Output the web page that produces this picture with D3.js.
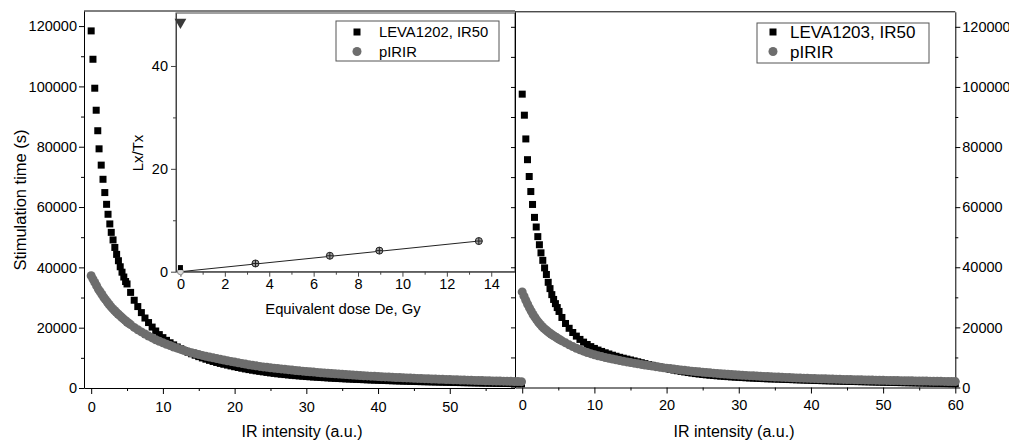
<!DOCTYPE html>
<html><head><meta charset="utf-8">
<script src="https://cdn.jsdelivr.net/npm/d3@7"></script>
<style>body{margin:0;background:#fff}</style>
</head><body>
<svg id="c" width="1009" height="442"></svg>
<script>
// ---------------- DATA ----------------
const xTicksMain = [0, 10, 20, 30, 40, 50, 60];
const yTicksMain = [0, 20000, 40000, 60000, 80000, 100000, 120000];
const xTicksInset = [0, 2, 4, 6, 8, 10, 12, 14];
const yTicksInset = [0, 20, 40];

// x positions (IR intensity, a.u.)
const leftIR50EarlyX = [0,0.25,0.5,0.7,0.92,1.1,1.4,1.65,1.9,2.15,2.35,2.6,2.8,3.05,3.3,3.55,3.8,4.05,4.3,4.55,4.8,5.0];
const rightIR50EarlyX = [0,0.3,0.5,0.73,0.97,1.19,1.43,1.7,1.94,2.16,2.38,2.6,2.85,3.1,3.35,3.6,3.85,4.1,4.35,4.6,4.85,5.1];
const pIRIREarlyX = [0,0.25,0.5,0.75,1,1.25,1.5,1.75,2,2.25,2.5,2.75,3,3.25,3.5,3.75,4,4.25,4.5,4.75,5,5.25];
const tailX = [5.5,6,6.5,7,7.5,8,8.5,9,9.5,10,10.5,11,11.5,12,12.5,13,13.5,14,14.5,15,15.5,16,16.5,17,17.5,18,18.5,19,19.5,20,
  20.5,21,21.5,22,22.5,23,23.5,24,24.5,25,25.5,26,26.5,27,27.5,28,28.5,29,29.5,30,30.5,31,31.5,32,32.5,33,33.5,34,34.5,35,
  35.5,36,36.5,37,37.5,38,38.5,39,39.5,40,40.5,41,41.5,42,42.5,43,43.5,44,44.5,45,45.5,46,46.5,47,47.5,48,48.5,49,49.5,50,
  50.5,51,51.5,52,52.5,53,53.5,54,54.5,55,55.5,56,56.5,57,57.5,58,58.5,59,59.5,60];

// stimulation time (s)
const leftIR50Y = [118400,109000,99400,92100,85300,79300,73900,69200,64800,60900,57600,54400,51600,49100,46600,44300,42200,40200,38400,36800,35300,34500,
  31700,29100,27000,25000,23200,21700,20200,18900,17700,16700,15800,15000,14300,13600,13000,12400,11850,11350,10870,10400,9970,9550,9170,8800,8470,8150,7870,7600,7320,7050,
  6800,6550,6320,6100,5900,5700,5520,5350,5170,5000,4850,4700,4570,4450,4320,4200,4100,4000,3900,3800,3720,3650,3570,3500,3420,3350,3270,3200,3140,3080,
  3020,2970,2910,2860,2810,2760,2710,2660,2610,2570,2520,2480,2440,2400,2360,2320,2280,2250,2210,2180,2140,2110,2080,2050,2020,1990,1960,1930,1900,1870,
  1840,1820,1790,1770,1740,1720,1690,1670,1640,1620,1600,1580,1550,1530,1510,1490,1470,1450,1430,1410];
const leftPIRIRY = [37200,36100,35000,33900,32800,31900,31000,30100,29300,28500,27700,27000,26300,25700,25100,24550,24000,23450,22900,22400,21900,21450,
  21000,20100,19300,18600,17900,17200,16600,16000,15500,15000,14500,14100,13600,13200,12800,12400,12000,11700,11400,11100,10800,10500,10250,10000,9750,9500,9270,9050,8820,8600,
  8370,8150,7920,7700,7520,7350,7170,7000,6850,6700,6570,6450,6320,6200,6070,5950,5820,5700,5590,5480,5370,5270,5170,5070,4970,4880,4790,4700,4610,4530,
  4450,4370,4290,4220,4140,4070,4000,3930,3860,3800,3740,3680,3620,3560,3500,3450,3390,3340,3290,3240,3190,3140,3090,3050,3000,2960,2910,2870,2830,2790,
  2750,2710,2670,2630,2590,2560,2520,2490,2450,2420,2380,2350,2320,2290,2260,2230,2200,2170,2140,2110];
const rightIR50Y = [97600,90600,82700,75800,70200,65200,60900,56600,53400,50200,47500,44800,42300,39800,37600,35000,32900,30900,29300,27900,26600,25300,
  23300,21300,19700,18300,17100,16000,15100,14300,13600,13000,12450,12000,11550,11150,10750,10400,10050,9750,9450,9150,8850,8550,8250,7950,7650,7380,7100,6850,6580,6300,
  6050,5800,5580,5370,5170,4980,4800,4630,4480,4340,4210,4100,3990,3890,3790,3700,3610,3530,3450,3380,3310,3240,3180,3120,3060,3000,2950,2900,2860,2820,
  2780,2740,2690,2650,2600,2560,2520,2480,2440,2400,2360,2320,2280,2250,2210,2180,2140,2110,2080,2050,2020,1990,1960,1930,1900,1870,1840,1810,1780,1760,
  1730,1700,1670,1650,1620,1600,1570,1550,1520,1500,1470,1450,1420,1400,1370,1350,1320,1300,1270,1250];
const rightPIRIRY = [31800,30400,29000,27700,26500,25400,24300,23400,22500,21700,21000,20300,19700,19200,18700,18200,17800,17400,17000,16600,16200,15850,
  15500,14850,14200,13600,13050,12550,12080,11650,11250,10900,10580,10280,10000,9730,9470,9220,8980,8750,8520,8300,8090,7880,7680,7490,7300,7120,6940,6770,6600,6440,
  6280,6130,5980,5840,5700,5570,5440,5320,5200,5090,4980,4880,4780,4680,4590,4500,4410,4330,4250,4170,4090,4020,3950,3880,3810,3750,3690,3630,3570,3510,
  3460,3400,3350,3300,3250,3200,3160,3110,3070,3030,2990,2950,2910,2870,2840,2800,2770,2730,2700,2670,2640,2610,2580,2550,2520,2500,2470,2440,2420,2390,
  2370,2340,2320,2300,2270,2250,2230,2210,2190,2170,2150,2130,2110,2090,2070,2050,2030,2010,1990,1970];

// inset (Lx/Tx vs equivalent dose)
const insetDose = [3.38, 6.73, 8.96, 13.44];
const insetLxTx = [1.6, 3.1, 4.1, 5.96];
const naturalPoint = [0, 0.8];
const saturationPoint = [0, 48.5];
const originPoint = [0, 0];
const fitX = [0, 13.44];
const fitY = [0, 5.96];

// ---------------- DRAW ----------------
const FONT = '"Liberation Sans", Arial, Helvetica, sans-serif';
const GRAY = "#6d6d6d";
const SQ = 7;
const svg = d3.select("#c");

const zip = (xs, ys) => xs.map((x, i) => ({x, y: ys[i]}));
const sLeftIR = zip(leftIR50EarlyX.concat(tailX), leftIR50Y);
const sLeftP = zip(pIRIREarlyX.concat(tailX), leftPIRIRY);
const sRightIR = zip(rightIR50EarlyX.concat(tailX), rightIR50Y);
const sRightP = zip(pIRIREarlyX.concat(tailX), rightPIRIRY);

const xL = d3.scaleLinear().domain([-1, 60]).range([84, 521.5]);
const yL = d3.scaleLinear().domain([0, 125000]).range([388, 11]);
const xR = d3.scaleLinear().domain([-1, 60]).range([515, 955.3]);
const yR = d3.scaleLinear().domain([0, 125000]).range([387.5, 11.8]);
const xI = d3.scaleLinear().domain([-0.2, 15.07]).range([176, 515]);
const yI = d3.scaleLinear().domain([0, 50.3]).range([271.7, 13]);

function drawAxis(parent, axis, tr, opts) {
  const g = parent.append("g").attr("transform", tr).call(axis);
  g.attr("font-family", FONT).attr("font-size", opts.fs || 14.5);
  g.selectAll("path.domain").attr("stroke", opts.color || "#000").attr("stroke-width", 1);
  if (opts.noDomain) g.selectAll("path.domain").remove();
  g.selectAll(".tick line").attr("stroke", opts.color || "#000");
  g.selectAll(".tick text").attr("fill", "#000");
  return g;
}
const minorOf = (ticks) => ticks.slice(0, -1).map((t, i) => (t + ticks[i + 1]) / 2);

// ===== Left panel frame / axes =====
const gL = svg.append("g");
gL.append("line").attr("x1", xL(-1)).attr("x2", xL(60)).attr("y1", yL(125000)).attr("y2", yL(125000)).attr("stroke", "#000");
drawAxis(gL, d3.axisLeft(yL).tickValues(yTicksMain).tickSize(5).tickPadding(2).tickSizeOuter(0).tickFormat(d3.format("d")), "translate(84,0)", {});
drawAxis(gL, d3.axisLeft(yL).tickValues(minorOf(yTicksMain)).tickSize(3).tickFormat(""), "translate(84,0)", {noDomain: true});
// the last label (60) of the left panel is hidden under the right panel in the original
drawAxis(gL, d3.axisBottom(xL).tickValues(xTicksMain).tickSize(6).tickPadding(8).tickSizeOuter(0)
  .tickFormat(d => d === xTicksMain[xTicksMain.length - 1] ? "" : d), "translate(0,388)", {});
drawAxis(gL, d3.axisBottom(xL).tickValues(minorOf(xTicksMain)).tickSize(3).tickFormat(""), "translate(0,388)", {noDomain: true});
gL.append("text").attr("transform", "translate(25.5,200) rotate(-90)").attr("text-anchor", "middle")
  .attr("font-family", FONT).attr("font-size", 16.5).text("Stimulation time (s)");
gL.append("text").attr("x", 302).attr("y", 437).attr("text-anchor", "middle")
  .attr("font-family", FONT).attr("font-size", 16).text("IR intensity (a.u.)");

// ===== Inset =====
const gI = svg.append("g");
gI.append("rect").attr("x", xI(-0.2)).attr("y", yI(50.3)).attr("width", xI(15.07) - xI(-0.2)).attr("height", yI(0) - yI(50.3))
  .attr("fill", "#fff").attr("stroke", "#444");
drawAxis(gI, d3.axisLeft(yI).tickValues(yTicksInset).tickSize(5).tickPadding(3).tickSizeOuter(0), `translate(${xI(-0.2)},0)`, {color: "#444"});
drawAxis(gI, d3.axisLeft(yI).tickValues([10, 30]).tickSize(3).tickFormat(""), `translate(${xI(-0.2)},0)`, {color: "#444", noDomain: true});
drawAxis(gI, d3.axisBottom(xI).tickValues(xTicksInset).tickSize(5).tickPadding(2).tickSizeOuter(0), `translate(0,${yI(0)})`, {color: "#444"});
drawAxis(gI, d3.axisBottom(xI).tickValues(minorOf(xTicksInset)).tickSize(3).tickFormat(""), `translate(0,${yI(0)})`, {color: "#444", noDomain: true});
gI.append("text").attr("x", 343).attr("y", 314).attr("text-anchor", "middle")
  .attr("font-family", FONT).attr("font-size", 14.8).text("Equivalent dose De, Gy");
gI.append("text").attr("transform", "translate(143,153) rotate(-90)").attr("text-anchor", "middle")
  .attr("font-family", FONT).attr("font-size", 15).text("Lx/Tx");
gI.append("path").datum(zip(fitX, fitY))
  .attr("d", d3.line().x(d => xI(d.x)).y(d => yI(d.y)))
  .attr("stroke", "#222").attr("stroke-width", 1).attr("fill", "none");
gI.append("circle").attr("cx", xI(originPoint[0])).attr("cy", yI(originPoint[1])).attr("r", 3)
  .attr("fill", "#ddd").attr("stroke", "#888");
gI.append("rect").attr("x", xI(naturalPoint[0]) - 2.5).attr("y", yI(naturalPoint[1]) - 2.5).attr("width", 5).attr("height", 5).attr("fill", "#000");
gI.append("path").attr("transform", `translate(${xI(saturationPoint[0])},${yI(saturationPoint[1])}) rotate(180)`)
  .attr("d", d3.symbol(d3.symbolTriangle, 60)()).attr("fill", "#3a3a3a");
const reg = gI.selectAll("g.reg").data(zip(insetDose, insetLxTx)).join("g")
  .attr("transform", d => `translate(${xI(d.x)},${yI(d.y)})`);
reg.append("circle").attr("r", 3.5).attr("fill", "#a0a0a0").attr("stroke", "#222").attr("stroke-width", 1);
reg.append("path").attr("d", "M-3.5,0H3.5M0,-3.5V3.5").attr("stroke", "#222").attr("stroke-width", 1);
// inset legend
gI.append("rect").attr("x", 336).attr("y", 21).attr("width", 163).attr("height", 40).attr("fill", "#fff").attr("stroke", "#555");
gI.append("rect").attr("x", 357 - 3.5).attr("y", 32 - 3.5).attr("width", 7).attr("height", 7).attr("fill", "#000");
gI.append("circle").attr("cx", 357).attr("cy", 51.5).attr("r", 4.5).attr("fill", GRAY);
gI.append("text").attr("x", 379).attr("y", 37.3).attr("font-family", FONT).attr("font-size", 14.8).text("LEVA1202, IR50");
gI.append("text").attr("x", 379).attr("y", 56.8).attr("font-family", FONT).attr("font-size", 14.8).text("pIRIR");

// ===== Right panel =====
const gR = svg.append("g");
gR.append("rect").attr("x", 515).attr("y", 0).attr("width", 494).attr("height", 442).attr("fill", "#fff");
gR.append("line").attr("x1", xR(-1)).attr("x2", xR(60)).attr("y1", yR(125000)).attr("y2", yR(125000)).attr("stroke", "#000");
drawAxis(gR, d3.axisLeft(yR).tickValues(d3.merge([yTicksMain, minorOf(yTicksMain)])).tickSize(4).tickFormat("").tickSizeOuter(0), "translate(515,0)", {});
drawAxis(gR, d3.axisRight(yR).tickValues(yTicksMain).tickSize(5).tickPadding(2).tickSizeOuter(0).tickFormat(d3.format("d")), `translate(${xR(60)},0)`, {});
drawAxis(gR, d3.axisRight(yR).tickValues(minorOf(yTicksMain)).tickSize(3).tickFormat(""), `translate(${xR(60)},0)`, {noDomain: true});
drawAxis(gR, d3.axisBottom(xR).tickValues(xTicksMain).tickSize(6).tickPadding(6).tickSizeOuter(0), `translate(0,${yR(0)})`, {});
drawAxis(gR, d3.axisBottom(xR).tickValues(minorOf(xTicksMain)).tickSize(3).tickFormat(""), `translate(0,${yR(0)})`, {noDomain: true});
gR.append("text").attr("x", 734).attr("y", 437).attr("text-anchor", "middle")
  .attr("font-family", FONT).attr("font-size", 16).text("IR intensity (a.u.)");
gR.selectAll("rect.sq").data(sRightIR).join("rect").attr("class", "sq")
  .attr("x", d => xR(d.x) - SQ / 2).attr("y", d => yR(d.y) - SQ / 2).attr("width", SQ).attr("height", SQ).attr("fill", "#000");
gR.selectAll("circle.ci").data(sRightP).join("circle").attr("class", "ci")
  .attr("cx", d => xR(d.x)).attr("cy", d => yR(d.y)).attr("r", 4.5).attr("fill", GRAY);
// right legend
gR.append("rect").attr("x", 757).attr("y", 23).attr("width", 172).attr("height", 40).attr("fill", "#fff").attr("stroke", "#555");
gR.append("rect").attr("x", 773 - 3.5).attr("y", 32 - 3.5).attr("width", 7).attr("height", 7).attr("fill", "#000");
gR.append("circle").attr("cx", 773).attr("cy", 51.5).attr("r", 4.5).attr("fill", GRAY);
gR.append("text").attr("x", 790).attr("y", 38.2).attr("font-family", FONT).attr("font-size", 17).text("LEVA1203, IR50");
gR.append("text").attr("x", 790).attr("y", 57.5).attr("font-family", FONT).attr("font-size", 17).text("pIRIR");

// ===== Left data (drawn last, its tail overlaps the right panel's edge as in the original) =====
const gD = svg.append("g");
gD.selectAll("rect.sq").data(sLeftIR).join("rect").attr("class", "sq")
  .attr("x", d => xL(d.x) - SQ / 2).attr("y", d => yL(d.y) - SQ / 2).attr("width", SQ).attr("height", SQ).attr("fill", "#000");
gD.selectAll("circle.ci").data(sLeftP).join("circle").attr("class", "ci")
  .attr("cx", d => xL(d.x)).attr("cy", d => yL(d.y)).attr("r", 4.5).attr("fill", GRAY);
</script>
</body></html>
